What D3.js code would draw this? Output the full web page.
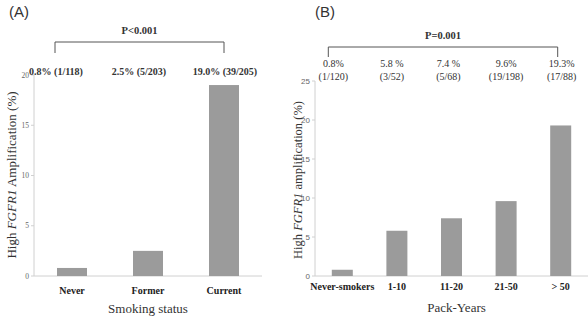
<!DOCTYPE html>
<html>
<head>
<meta charset="utf-8">
<script src="https://cdn.jsdelivr.net/npm/d3@7"></script>
<style>
  body { margin: 0; background: #fff; }
  svg { display: block; }
</style>
</head>
<body>
<div id="chart"></div>
<script>
// Panel A: smoking status
var statusCats = ["Never", "Former", "Current"];
var statusValues = [0.8, 2.5, 19.0];
var statusLabels = ["0.8% (1/118)", "2.5% (5/203)", "19.0% (39/205)"];
var statusTicks = [0, 5, 10, 15, 20];

// Panel B: pack-years
var packCats = ["Never-smokers", "1-10", "11-20", "21-50", "> 50"];
var packValues = [0.8, 5.8, 7.4, 9.6, 19.3];
var packPct = ["0.8%", "5.8 %", "7.4 %", "9.6%", "19.3%"];
var packCounts = ["(1/120)", "(3/52)", "(5/68)", "(19/198)", "(17/88)"];
var packTicks = [0, 5, 10, 15, 20, 25];

const width = 588, height = 317;
var serif = "'Liberation Serif', 'DejaVu Serif', serif";
var sans = "'Liberation Sans', Arial, sans-serif";
var barColor = "#9b9b9b",
    axisColor = "#d0d0d0",
    tickColor = "#666";

var svg = d3.select("#chart").append("svg")
    .attr("width", width)
    .attr("height", height);

function panel(opts) {
    var g = svg.append("g");
    var x = d3.scaleBand().domain(opts.cats).range([opts.x0, opts.x1]).paddingInner(opts.pad).paddingOuter(opts.pad / 2);
    var y = d3.scaleLinear().domain([0, opts.ymax]).range([opts.y0, opts.y1]);

    // axes lines
    g.append("line").attr("x1", opts.x0).attr("x2", opts.x1).attr("y1", opts.y0).attr("y2", opts.y0)
        .attr("stroke", axisColor).attr("stroke-width", 1);
    g.append("line").attr("x1", opts.x0).attr("x2", opts.x0).attr("y1", opts.y0).attr("y2", opts.y1)
        .attr("stroke", axisColor).attr("stroke-width", 1);

    g.selectAll("line.tick").data(opts.ticks).enter().append("line")
        .attr("class", "tick")
        .attr("x1", opts.x0 - 3).attr("x2", opts.x0)
        .attr("y1", function(d) { return y(d); }).attr("y2", function(d) { return y(d); })
        .attr("stroke", axisColor);

    g.selectAll("text.tick").data(opts.ticks).enter().append("text")
        .attr("class", "tick")
        .attr("x", opts.x0 - 5)
        .attr("y", function(d) { return y(d); })
        .attr("dy", "0.35em")
        .attr("text-anchor", "end")
        .attr("font-family", opts.tickFont)
        .attr("font-size", opts.tickSize)
        .attr("fill", tickColor)
        .text(function(d) { return d; });

    g.selectAll("rect").data(opts.values).enter().append("rect")
        .attr("x", function(d, i) { return x(opts.cats[i]) + (x.bandwidth() - opts.barW) / 2; })
        .attr("width", opts.barW)
        .attr("y", function(d) { return y(d); })
        .attr("height", function(d) { return opts.y0 - y(d); })
        .attr("fill", barColor);

    g.selectAll("text.cat").data(opts.cats).enter().append("text")
        .attr("class", "cat")
        .attr("x", function(d) { return x(d) + x.bandwidth() / 2; })
        .attr("y", opts.catY)
        .attr("text-anchor", "middle")
        .attr("font-family", serif)
        .attr("font-weight", "bold")
        .attr("font-size", 10)
        .attr("fill", "#222")
        .text(function(d) { return d; });

    g.append("text")
        .attr("x", (opts.x0 + opts.x1) / 2 + (opts.titleDx || 0))
        .attr("y", opts.titleY)
        .attr("text-anchor", "middle")
        .attr("font-family", serif)
        .attr("font-size", 13)
        .attr("fill", "#333")
        .text(opts.xTitle);

    // rotated y label with italic gene name
    var yl = g.append("text")
        .attr("transform", "translate(" + opts.ylX + "," + opts.ylY + ") rotate(-90)")
        .attr("text-anchor", "middle")
        .attr("font-family", serif)
        .attr("font-size", opts.ylSize)
        .attr("fill", "#333");
    yl.append("tspan").text("High ");
    yl.append("tspan").attr("font-style", "italic").text("FGFR1");
    yl.append("tspan").text(opts.yWord);

    // panel letter
    g.append("text")
        .attr("x", opts.letterX).attr("y", 17)
        .attr("font-family", sans)
        .attr("font-size", 15)
        .attr("fill", "#333")
        .text(opts.letter);

    // significance bracket
    var bx0 = x(opts.cats[0]) + x.bandwidth() / 2 + opts.brL,
        bx1 = x(opts.cats[opts.cats.length - 1]) + x.bandwidth() / 2 + opts.brR;
    g.append("path")
        .attr("d", "M" + bx0 + "," + opts.brBottom + "V" + opts.brTop + "H" + bx1 + "V" + opts.brBottom)
        .attr("fill", "none")
        .attr("stroke", "#555")
        .attr("stroke-width", 1);
    g.append("text")
        .attr("x", (bx0 + bx1) / 2)
        .attr("y", opts.brTop - 8)
        .attr("text-anchor", "middle")
        .attr("font-family", serif)
        .attr("font-weight", "bold")
        .attr("font-size", 10.5)
        .attr("fill", "#333")
        .text(opts.pText);

    return { g: g, x: x, y: y };
}

var pA = panel({
    cats: statusCats, values: statusValues, ticks: statusTicks, ymax: 20,
    x0: 34, x1: 262, y0: 276, y1: 75, pad: 0.6, barW: 30,
    tickFont: serif, tickSize: 7.5,
    catY: 294, xTitle: "Smoking status", titleY: 313, titleDx: 0,
    ylX: 16, ylY: 175, ylSize: 13, yWord: " Amplification (%)",
    letter: "(A)", letterX: 9,
    brL: -17, brR: 0, brTop: 42, brBottom: 53, pText: "P<0.001"
});

pA.g.selectAll("text.val").data(statusLabels).enter().append("text")
    .attr("class", "val")
    .attr("x", function(d, i) { return pA.x(statusCats[i]) + pA.x.bandwidth() / 2 + (i == 0 ? -16 : (i == 1 ? -9 : 1)); })
    .attr("y", 75)
    .attr("text-anchor", "middle")
    .attr("font-family", serif)
    .attr("font-weight", "bold")
    .attr("font-size", 10)
    .attr("fill", "#333")
    .text(function(d) { return d; });

var pB = panel({
    cats: packCats, values: packValues, ticks: packTicks, ymax: 25,
    x0: 315, x1: 588, y0: 276, y1: 81, pad: 0.6, barW: 21,
    tickFont: sans, tickSize: 8,
    catY: 290, xTitle: "Pack-Years", titleY: 312, titleDx: 5,
    ylX: 302, ylY: 180, ylSize: 12.5, yWord: " amplification (%)",
    letter: "(B)", letterX: 315,
    brL: -14, brR: -3, brTop: 47, brBottom: 57, pText: "P=0.001"
});

var valOffsets = [-9, -5, -3, 0, 1];
pB.g.selectAll("text.pct").data(packPct).enter().append("text")
    .attr("class", "pct")
    .attr("x", function(d, i) { return pB.x(packCats[i]) + pB.x.bandwidth() / 2 + valOffsets[i]; })
    .attr("y", 67)
    .attr("text-anchor", "middle")
    .attr("font-family", serif)
    .attr("font-size", 10)
    .attr("fill", "#333")
    .text(function(d) { return d; });

pB.g.selectAll("text.cnt").data(packCounts).enter().append("text")
    .attr("class", "cnt")
    .attr("x", function(d, i) { return pB.x(packCats[i]) + pB.x.bandwidth() / 2 + valOffsets[i]; })
    .attr("y", 80)
    .attr("text-anchor", "middle")
    .attr("font-family", serif)
    .attr("font-size", 10)
    .attr("fill", "#333")
    .text(function(d) { return d; });
</script>
</body>
</html>
